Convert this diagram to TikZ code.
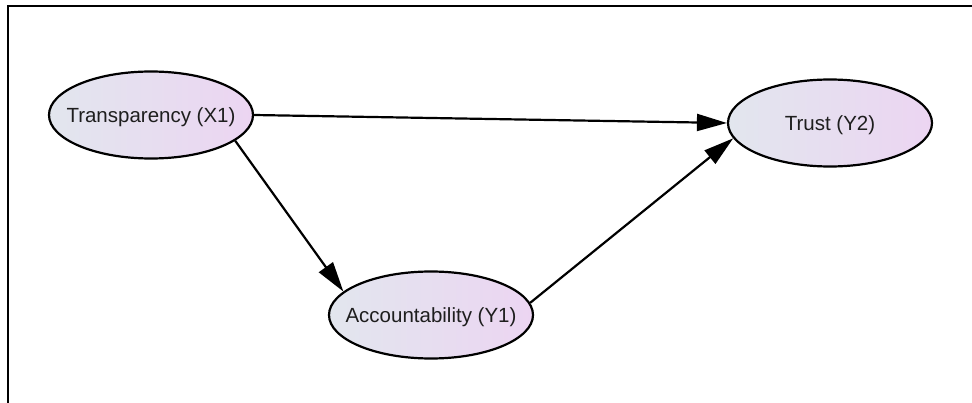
\documentclass[tikz,border=0pt]{standalone}
\usepackage{fontspec}
\setmainfont{Liberation Sans}
\usetikzlibrary{shapes.geometric,arrows.meta}
\definecolor{gradL}{RGB}{226,230,238}
\definecolor{gradR}{RGB}{236,213,242}
\definecolor{txt}{RGB}{30,30,30}
\newcommand{\vtext}[1]{\makebox[0pt]{\smash{\raisebox{-7.3pt}{#1}}}}
\tikzset{
  var/.style={ellipse, draw=black, line width=2.2pt, minimum width=204pt, minimum height=87pt,
    inner sep=0pt, left color=gradL, right color=gradR, text=txt,
    font=\fontsize{20.5}{24}\selectfont},
  edge/.style={line width=2.2pt, -{Triangle[length=30pt,width=17pt]}}
}
\begin{document}
\begin{tikzpicture}[x=1pt,y=-1pt]
\useasboundingbox (0,0) rectangle (972,403);
\draw[line width=2pt] (8,404) -- (8,6) -- (973,6);
\node[var] (tr) at (151,115) {\vtext{Transparency (X1)}};
\node[var] (tru) at (830,123) {\vtext{Trust (Y2)}};
\node[var] (acc) at (431,315) {\vtext{Accountability (Y1)}};
\draw[edge] (tr.0) -- (tru.180);
\draw[edge] (tr.-17) -- (acc.165);
\draw[edge] (acc.7) -- (tru.189);
\end{tikzpicture}
\end{document}
